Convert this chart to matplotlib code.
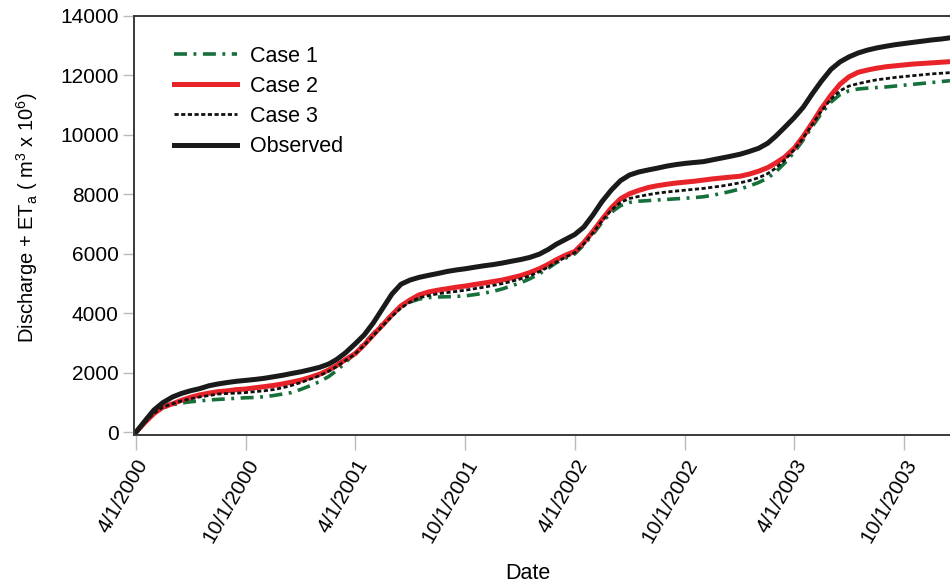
import numpy as np
import pandas as pd
import matplotlib
matplotlib.use('Agg')
import matplotlib.pyplot as plt
import matplotlib.dates as mdates

plt.rcParams['font.family'] = ['Liberation Sans', 'DejaVu Sans']

# Cumulative discharge + actual ET (10^6 m3), read on the 1st and 16th of each month
dates = [pd.Timestamp(y, m, d)
         for y, m in [(y, m) for y in range(2000, 2004) for m in range(1, 13)]
         if pd.Timestamp(y, m, 1) >= pd.Timestamp(2000, 4, 1)
         for d in (1, 16)]

observed = [0, 380, 750, 1000, 1190, 1310, 1400, 1470, 1570, 1630, 1680, 1720, 1750, 1780, 1820, 1870, 1920, 1980,
            2040, 2110, 2190, 2300, 2450, 2680, 2980, 3280, 3680, 4150, 4650, 4980, 5120, 5210, 5280, 5340, 5410, 5460, 5500, 5550, 5600, 5640, 5690, 5750,
            5810, 5880, 5990, 6150, 6320, 6480, 6650, 6900, 7300, 7750, 8150, 8460, 8650, 8750, 8820, 8880, 8950, 9000, 9040, 9070, 9100, 9160, 9220, 9280,
            9350, 9440, 9550, 9720, 9950, 10250, 10580, 10930, 11380, 11800, 12200, 12450, 12620, 12750, 12850, 12920, 12980, 13030, 13070, 13110, 13150, 13190, 13220, 13260]
case2 = [0, 330, 630, 850, 960, 1080, 1180, 1260, 1320, 1370, 1400, 1440, 1460, 1500, 1540, 1580, 1630, 1690,
         1760, 1850, 1960, 2100, 2250, 2450, 2650, 2950, 3280, 3600, 3950, 4250, 4450, 4620, 4720, 4780, 4830, 4880, 4920, 4970, 5020, 5070, 5120, 5190,
         5270, 5370, 5500, 5650, 5800, 5950, 6080, 6380, 6750, 7150, 7550, 7850, 8020, 8130, 8230, 8290, 8340, 8380, 8410, 8440, 8480, 8520, 8550, 8580,
         8610, 8680, 8780, 8900, 9050, 9250, 9550, 9950, 10400, 10880, 11330, 11700, 11950, 12100, 12180, 12240, 12290, 12320, 12350, 12380, 12400, 12420, 12440, 12460]
case3 = [0, 340, 640, 850, 960, 1060, 1130, 1190, 1240, 1290, 1310, 1320, 1340, 1370, 1400, 1440, 1500, 1580,
         1680, 1790, 1910, 2060, 2210, 2420, 2640, 2930, 3250, 3570, 3900, 4180, 4380, 4520, 4600, 4660, 4700, 4740, 4780, 4830, 4880, 4940, 5000, 5070,
         5160, 5260, 5400, 5560, 5720, 5880, 6040, 6330, 6700, 7100, 7480, 7730, 7860, 7930, 7990, 8040, 8080, 8110, 8140, 8170, 8200, 8240, 8280, 8330,
         8390, 8460, 8560, 8700, 8880, 9150, 9500, 9900, 10350, 10800, 11200, 11480, 11640, 11720, 11790, 11850, 11890, 11930, 11960, 11990, 12020, 12050, 12070, 12090]
case1 = [0, 340, 640, 830, 930, 990, 1030, 1060, 1090, 1110, 1130, 1150, 1165, 1175, 1200, 1240, 1290, 1340,
         1450, 1570, 1710, 1880, 2080, 2350, 2680, 3000, 3330, 3650, 3960, 4210, 4380, 4480, 4530, 4550, 4560, 4570, 4590, 4630, 4680, 4740, 4820, 4920,
         5030, 5160, 5330, 5520, 5700, 5850, 6000, 6300, 6650, 7050, 7400, 7620, 7730, 7770, 7790, 7810, 7830, 7850, 7870, 7890, 7920, 7970, 8030, 8100,
         8180, 8280, 8400, 8550, 8750, 9050, 9420, 9830, 10280, 10720, 11100, 11350, 11480, 11540, 11570, 11590, 11610, 11640, 11670, 11700, 11730, 11760, 11790, 11820]

tick_dates = pd.date_range('2000-04-01', '2003-10-01', freq='6MS')
y_ticks = np.arange(0, 14001, 2000)

fig = plt.figure(figsize=(9.5, 5.86), dpi=100)
ax = fig.add_axes([0.141, 0.258, 0.859, 0.715])

ax.plot(dates, case1, color='#16703a', lw=2.6, ls=(0, (3.6, 1.8, 0.8, 1.8)), label='Case 1')
ax.plot(dates, case2, color='#e8232a', lw=3.6, label='Case 2')
ax.plot(dates, case3, color='#111111', lw=2.0, ls=(0, (1.5, 0.9)), label='Case 3')
ax.plot(dates, observed, color='#1a1a1a', lw=3.6, label='Observed')

ax.set_xlim(pd.Timestamp('2000-03-29'), pd.Timestamp('2003-12-16'))
ax.set_ylim(-80, 14000)
ax.set_xticks(tick_dates)
ax.xaxis.set_major_formatter(mdates.DateFormatter('%-m/%-d/%Y'))
ax.set_yticks(y_ticks)

ax.tick_params(axis='x', length=11, width=1, color='#bbbbbb', labelsize=15, pad=4)
ax.tick_params(axis='y', length=8, width=1, color='#bbbbbb', labelsize=15, pad=3)
for lbl in ax.get_xticklabels():
    lbl.set_rotation(60)
    lbl.set_ha('right')
    lbl.set_rotation_mode('anchor')

for side in ['left', 'bottom', 'top']:
    ax.spines[side].set_color('#3a3a3a')
    ax.spines[side].set_linewidth(1.4)
ax.spines['right'].set_visible(False)

fig.text(0.556, 0.022, 'Date', fontsize=15.5, ha='center', va='center')
fig.text(0.029, 0.628, r'Discharge + ET$_\mathregular{a}$ ( m$^\mathregular{3}$ x 10$^\mathregular{6}$)',
         fontsize=14.5, rotation=90, ha='center', va='center')

ax.legend(loc='upper left', bbox_to_anchor=(0.172, 0.94), bbox_transform=fig.transFigure,
          frameon=False, fontsize=15.5, handlelength=2.9, handletextpad=0.6,
          labelspacing=0.42, borderpad=0)

fig.savefig('out.png', dpi=100)
